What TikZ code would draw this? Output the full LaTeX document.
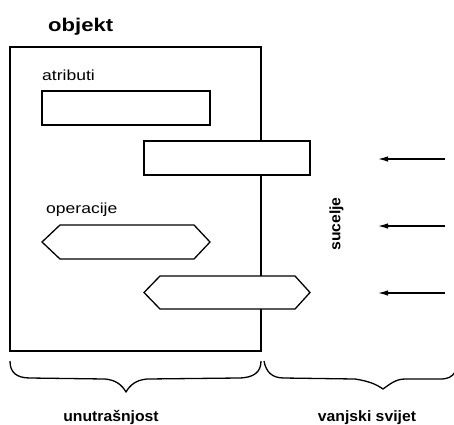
\documentclass[tikz,border=0pt]{standalone}
\usepackage{fontspec}
\setmainfont{Liberation Sans}[FakeStretch=1.2]
\newfontfamily\labelfam{Liberation Sans}[FakeStretch=1.05]
\usetikzlibrary{arrows.meta}
\tikzset{
  line/.style={line width=1.3pt, line join=miter},
  boxshape/.style={line, fill=white},
  inarrow/.style={line width=1.3pt, -{Latex[length=10pt,width=5.5pt]}},
  plainlabel/.style={font=\fontsize{14.6}{17}\selectfont, inner sep=0pt, anchor=base west},
  boldlabel/.style={font=\labelfam\fontsize{15}{18}\selectfont\bfseries, inner sep=0pt},
  brace/.style={line width=1.3pt, line join=round}
}
\begin{document}
\begin{tikzpicture}[x=1pt, y=-1pt]
\useasboundingbox (0,0) rectangle (454,424);
% title
\node[font=\fontsize{18.4}{21}\selectfont\bfseries, inner sep=0pt, anchor=base west] (title) at (48,31) {objekt};
% outer object box
\draw[line] (10,47) rectangle (261,351);
% attributes
\node[plainlabel] (atr) at (42,80) {atributi};
\draw[boxshape] (42,91) rectangle (210,125);
\draw[boxshape] (144,141) rectangle (310,175);
% operations
\node[plainlabel] (ops) at (46,213) {operacije};
\draw[boxshape] (42,242) -- (60,225) -- (194,225) -- (210,242) -- (194,259) -- (60,259) -- cycle;
\draw[boxshape] (144,292.5) -- (160,276) -- (295,276) -- (310,292.5) -- (295,309) -- (160,309) -- cycle;
% interface label
\node[boldlabel, rotate=90] (suc) at (336.5,224) {sucelje};
% incoming arrows
\coordinate (a1s) at (445,159); \coordinate (a1e) at (378,159);
\coordinate (a2s) at (445,226); \coordinate (a2e) at (378,226);
\coordinate (a3s) at (445,293); \coordinate (a3e) at (378,293);
\draw[inarrow] (a1s) -- (a1e);
\draw[inarrow] (a2s) -- (a2e);
\draw[inarrow] (a3s) -- (a3e);
% braces
\draw[brace] (10,361) .. controls (10,372) and (16,378) .. (30,378)
  -- (105,379) .. controls (116,380) and (122,385) .. (126,392)
  .. controls (130,385) and (136,380) .. (147,379)
  -- (238,378) .. controls (254,378) and (261,372) .. (261,361);
\draw[brace] (264,361) .. controls (266,372) and (272,378) .. (284,378)
  -- (355,379) .. controls (368,381) and (376,384) .. (383,389)
  .. controls (390,384) and (396,379) .. (405,379)
  -- (440,379) .. controls (448,379) and (452,377) .. (455,372);
% bottom labels
\node[boldlabel, anchor=base] (inner) at (111,421.5) {unutrašnjost};
\node[boldlabel, anchor=base] (outer) at (367,421.5) {vanjski svijet};
\end{tikzpicture}
\end{document}
